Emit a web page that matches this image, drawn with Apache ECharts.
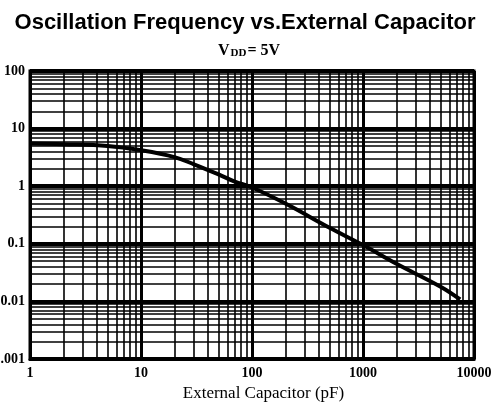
<!DOCTYPE html>
<html>
<head>
<meta charset="utf-8">
<script src="https://cdn.jsdelivr.net/npm/echarts@6/dist/echarts.min.js"></script>
<style>
  html, body { margin: 0; padding: 0; background: #fff; }
  #chart { width: 502px; height: 412px; }
</style>
</head>
<body>
<div id="chart"></div>
<script>
// curve
const capPF = [1, 2, 5, 10, 20, 30, 50, 70, 100, 200, 500, 1000, 2000, 5000, 7500];
const freq = [5.5, 5.35, 5.0, 4.2, 3.2, 2.4, 1.6, 1.2, 0.95, 0.5, 0.19, 0.095, 0.045, 0.018, 0.0108];

const xDecades = [1, 10, 100, 1000];
const yDecades = [0.001, 0.01, 0.1, 1, 10];
const minorSteps = [2, 3, 4, 5, 6, 7, 8, 9];

// minor grid positions (2..9 in each decade)
let minorX = [];
xDecades.forEach(d => minorSteps.forEach(m => minorX.push(d * m)));
let minorY = [];
yDecades.forEach(d => minorSteps.forEach(m => minorY.push(+(d * m).toPrecision(3))));

var chartDom = document.getElementById("chart");
var myChart = echarts.init(chartDom);

var gridLines = [];
minorX.forEach(v => gridLines.push({ xAxis: v }));
minorY.forEach(v => gridLines.push({ yAxis: v }));

var option = {
  animation: false,
  backgroundColor: "#fff",
  title: [
    {
      text: "Oscillation Frequency vs.External Capacitor",
      left: 240,
      top: 7,
      textAlign: "center",
      textStyle: {
        fontFamily: "Liberation Sans",
        fontWeight: "bold",
        fontSize: 22,
        color: "#000"
      }
    },
    {
      text: "V{sub|DD}= 5V",
      left: 244,
      top: 37,
      textAlign: "center",
      textStyle: {
        fontFamily: "Liberation Serif",
        fontWeight: "bold",
        fontSize: 16,
        color: "#000",
        rich: {
          sub: {
            fontFamily: "Liberation Serif",
            fontWeight: "bold",
            fontSize: 11,
            verticalAlign: "bottom",
            padding: [6, 1, 0, 1]
          }
        }
      }
    }
  ],
  grid: {
    left: 30,
    top: 71,
    width: 444,
    height: 288,
    outerBoundsMode: "none",
    containLabel: false,
    show: true,
    borderColor: "#000",
    borderWidth: 3,
    backgroundColor: "#fff"
  },
  xAxis: {
    type: "log",
    logBase: 10,
    min: 1,
    max: 10000,
    splitNumber: 4,
    name: "External Capacitor (pF)",
    nameLocation: "middle",
    nameGap: 22,
    nameTextStyle: {
      fontFamily: "Liberation Serif",
      fontSize: 17,
      color: "#000",
      padding: [0, 0, 0, 23]
    },
    axisLine: { lineStyle: { color: "#000", width: 3 } },
    axisTick: { show: false },
    axisLabel: {
      margin: 7,
      fontFamily: "Liberation Serif",
      fontWeight: "bold",
      fontSize: 14,
      color: "#000",
      formatter: v => String(Math.round(+v))
    },
    splitLine: { show: true, lineStyle: { color: "#000", width: 3 } }
  },
  yAxis: {
    type: "log",
    logBase: 10,
    min: 0.001,
    max: 100,
    splitNumber: 5,
    axisLine: { lineStyle: { color: "#000", width: 3 } },
    axisTick: { show: false },
    axisLabel: {
      margin: 5,
      fontFamily: "Liberation Serif",
      fontWeight: "bold",
      fontSize: 14,
      color: "#000",
      formatter: v => String(+(+v).toPrecision(3))
    },
    splitLine: { show: true, lineStyle: { color: "#000", width: 4 } }
  },
  series: [
    {
      type: "line",
      data: [],
      silent: true,
      z: 1,
      markLine: {
        silent: true,
        precision: 8,
        symbol: ["none", "none"],
        label: { show: false },
        lineStyle: { color: "#000", width: 1.6, type: "solid" },
        emphasis: { disabled: true },
        data: gridLines
      }
    },
    {
      type: "line",
      data: capPF.map((c, i) => [c, freq[i]]),
      smooth: 0.4,
      showSymbol: false,
      z: 5,
      lineStyle: { color: "#000", width: 4 }
    }
  ]
};

option && myChart.setOption(option);
</script>
</body>
</html>
